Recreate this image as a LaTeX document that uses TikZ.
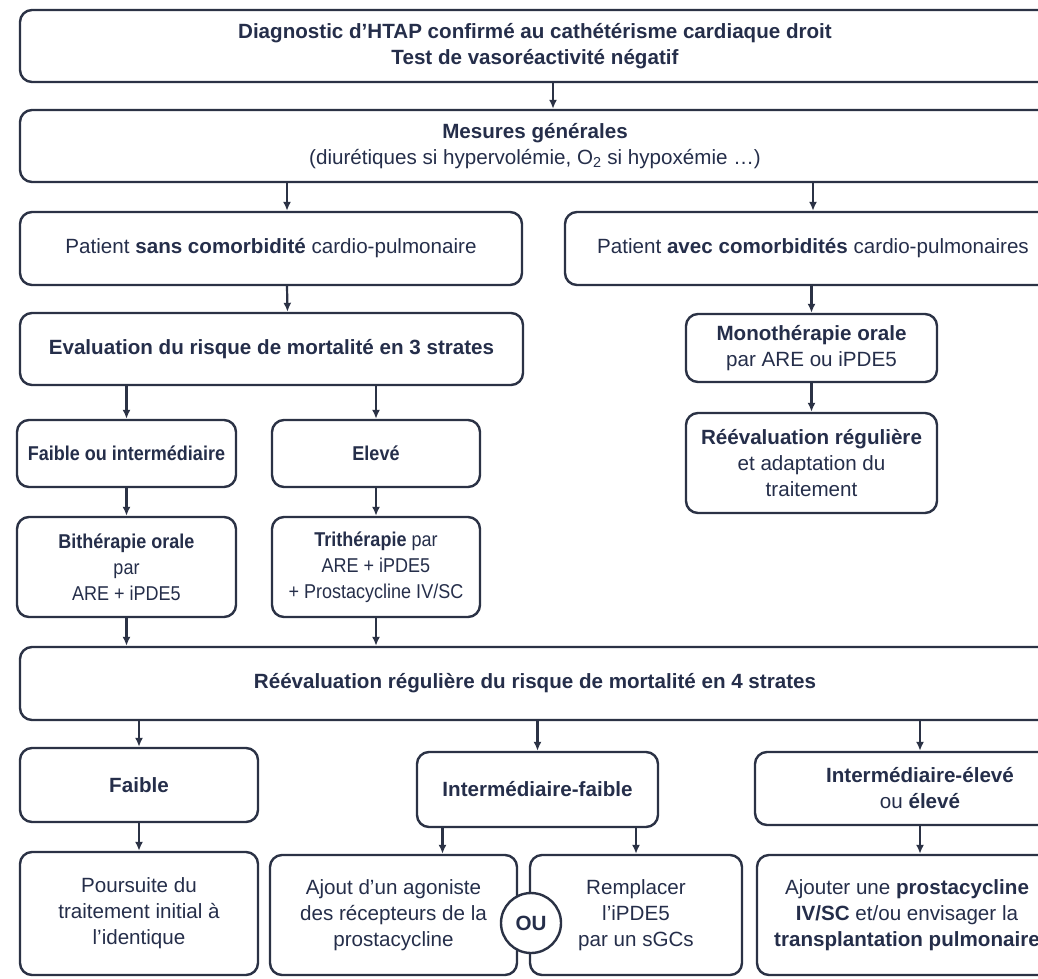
\documentclass[tikz,border=0pt]{standalone}
\usepackage{fontspec}
\setmainfont{Liberation Sans}
\newfontfamily\narrowsans[FakeStretch=0.9]{Liberation Sans}
\usepackage{xcolor}
\usetikzlibrary{arrows.meta}
\definecolor{custom_ink}{HTML}{252E4A}
\definecolor{custom_line}{HTML}{2B3245}

\begin{document}
\begin{tikzpicture}[x=1pt, y=-1pt,
    box/.style={draw=custom_line, line width=2.4pt, rounded corners=12pt, fill=white,
      align=center, text=custom_ink, inner sep=0pt, font=\fontsize{20.6}{26}\selectfont},
    narrow/.style={font=\narrowsans\fontsize{20}{26}\selectfont},
    arr/.style={-{Latex[length=9pt,width=8pt]}, line width=2.2pt, draw=custom_line}]
    \fill[white] (0,0) rectangle (1038,978);
    \useasboundingbox (0,0) rectangle (1038,978);

    % Diagnosis and general measures
    \node[box, minimum width=1030pt, minimum height=72pt] (diag) at (535,46)
      {\textbf{Diagnostic d’HTAP confirmé au cathétérisme cardiaque droit}\\\textbf{Test de vasoréactivité négatif}};
    \node[box, minimum width=1030pt, minimum height=72pt] (mesures) at (535,146)
      {\textbf{Mesures générales}\\(diurétiques si hypervolémie, O\textsubscript{2} si hypoxémie …)};

    % Patient groups
    \node[box, minimum width=502pt, minimum height=73pt] (sans) at (271,248.5)
      {Patient \textbf{sans comorbidité} cardio-pulmonaire};
    \node[box, minimum width=496pt, minimum height=73pt] (avec) at (813,248.5)
      {Patient \textbf{avec comorbidités} cardio-pulmonaires};

    % Left branch: risk in 3 strata
    \node[box, minimum width=503pt, minimum height=72pt] (eval) at (271.5,349)
      {\textbf{Evaluation du risque de mortalité en 3 strates}};
    \node[box, narrow, minimum width=219pt, minimum height=67pt] (fi) at (126.5,453.5)
      {\textbf{Faible ou intermédiaire}};
    \node[box, narrow, minimum width=208pt, minimum height=67pt] (el) at (376,453.5)
      {\textbf{Elevé}};
    \node[box, narrow, minimum width=219pt, minimum height=100pt] (bi) at (126.5,567)
      {\textbf{Bithérapie orale}\\par\\ARE + iPDE5};
    \node[box, narrow, minimum width=208pt, minimum height=100pt] (tri) at (376,567)
      {\textbf{Trithérapie} par\\ARE + iPDE5\\+ Prostacycline IV/SC};

    % Right branch: monotherapy
    \node[box, minimum width=251pt, minimum height=68pt] (mono) at (811.5,348)
      {\textbf{Monothérapie orale}\\par ARE ou iPDE5};
    \node[box, minimum width=251pt, minimum height=100pt] (reeval) at (811.5,463)
      {\textbf{Réévaluation régulière}\\et adaptation du\\traitement};

    % Re-evaluation in 4 strata
    \node[box, minimum width=1030pt, minimum height=73pt] (r4) at (535,683.5)
      {\textbf{Réévaluation régulière du risque de mortalité en 4 strates}};
    \node[box, minimum width=238pt, minimum height=74pt] (fa) at (139,785)
      {\textbf{Faible}};
    \node[box, minimum width=241pt, minimum height=75pt] (ifa) at (537.5,789.5)
      {\textbf{Intermédiaire-faible}};
    \node[box, minimum width=330pt, minimum height=73pt] (iel) at (920,788.5)
      {\textbf{Intermédiaire-élevé}\\ou \textbf{élevé}};

    % Treatments
    \node[box, minimum width=238pt, minimum height=123pt] (pou) at (139,913.5)
      {Poursuite du\\traitement initial à\\l’identique};
    \node[box, minimum width=247pt, minimum height=120pt] (ajo) at (393.5,915)
      {Ajout d’un agoniste\\des récepteurs de la\\prostacycline};
    \node[box, minimum width=212pt, minimum height=120pt] (rem) at (636,915)
      {Remplacer\\l’iPDE5\\par un sGCs};
    \node[box, minimum width=300pt, minimum height=120pt] (ajt) at (907,915)
      {Ajouter une \textbf{prostacycline}\\\textbf{IV/SC} et/ou envisager la\\\textbf{transplantation pulmonaire}};
    \node[box, circle, minimum size=60pt, rounded corners=0pt] (ou) at (531,923) {\textbf{OU}};

    % Arrows
    \draw[arr] ([xshift=18pt]diag.south) -- ([xshift=18pt]mesures.north);
    \draw[arr] ([xshift=16pt]sans.north |- mesures.south) -- ([xshift=16pt]sans.north);
    \draw[arr] (mesures.south -| avec) -- (avec.north);
    \draw[arr] ([xshift=16pt]sans.south) -- ([xshift=16pt]eval.north);
    \draw[arr] (avec.south -| mono) -- (mono.north);
    \draw[arr] (mono) -- (reeval);
    \draw[arr] (eval.south -| fi) -- (fi.north);
    \draw[arr] (eval.south -| el) -- (el.north);
    \draw[arr] (fi) -- (bi);
    \draw[arr] (el) -- (tri);
    \draw[arr] (bi.south) -- (bi.south |- r4.north);
    \draw[arr] (tri.south) -- (tri.south |- r4.north);
    \draw[arr] (r4.south -| fa) -- (fa.north);
    \draw[arr] (r4.south -| ifa) -- (ifa.north);
    \draw[arr] (r4.south -| iel) -- (iel.north);
    \draw[arr] (fa) -- (pou);
    \draw[arr] ([xshift=-95pt]ifa.south) -- ([xshift=-95pt]ifa.south |- ajo.north);
    \draw[arr] (ifa.south -| rem) -- (rem.north);
    \draw[arr] (iel.south) -- (iel.south |- ajt.north);
\end{tikzpicture}
\end{document}
